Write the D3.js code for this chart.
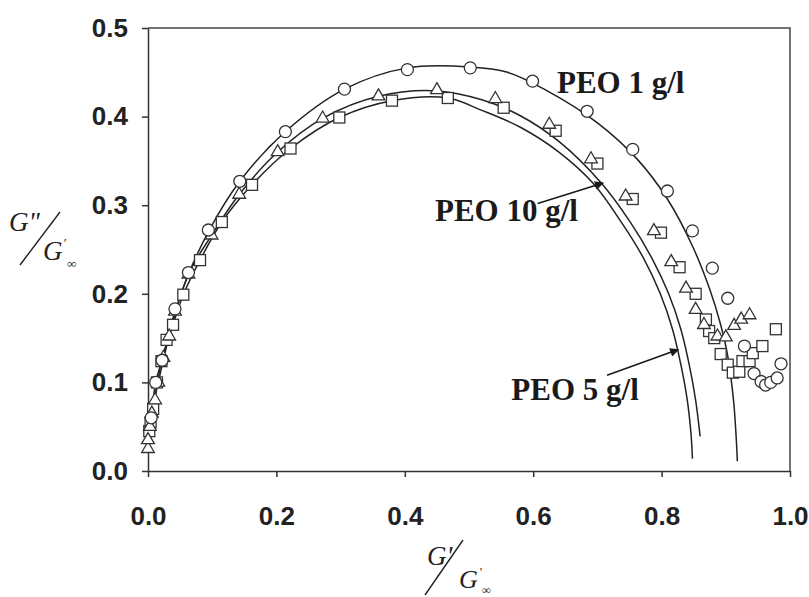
<!DOCTYPE html>
<html>
<head>
<meta charset="utf-8">
<script src="https://cdn.jsdelivr.net/npm/d3@7"></script>
<style>
  body { margin: 0; background: #fff; }
  .tick text { font-family: "Liberation Sans", Arial, sans-serif; font-weight: bold; font-size: 26px; fill: #222; }
  .lbl { font-family: "Liberation Serif", "Times New Roman", serif; font-weight: bold; font-size: 31px; fill: #1a1a1a; }
  .ttl { font-family: "Liberation Serif", "Times New Roman", serif; font-style: italic; fill: #222; }
</style>
</head>
<body>
<svg id="chart" width="809" height="597"></svg>
<script>
// tick values
var xTicks = [0, 0.2, 0.4, 0.6, 0.8, 1.0];
var yTicks = [0, 0.1, 0.2, 0.3, 0.4, 0.5];

// measured points (G'/Ginf, G''/Ginf)
var peo1 = [[0.005,0.06],[0.012,0.10],[0.022,0.125],[0.042,0.183],[0.063,0.224],[0.094,0.272],
  [0.143,0.327],[0.214,0.383],[0.306,0.431],[0.404,0.453],[0.502,0.455],[0.599,0.440],
  [0.684,0.406],[0.755,0.363],[0.809,0.316],[0.848,0.271],[0.879,0.229],[0.903,0.195],
  [0.929,0.141],[0.944,0.110],[0.955,0.101],[0.962,0.097],[0.970,0.100],[0.980,0.105],[0.986,0.121]];

var peo10 = [[0.0,0.025],[0.0,0.035],[0.003,0.050],[0.006,0.065],[0.011,0.080],[0.016,0.100],
  [0.024,0.128],[0.033,0.152],[0.042,0.180],[0.063,0.222],[0.099,0.266],[0.142,0.312],
  [0.202,0.360],[0.272,0.398],[0.359,0.423],[0.450,0.430],[0.541,0.420],[0.625,0.391],
  [0.690,0.352],[0.744,0.310],[0.788,0.271],[0.815,0.236],[0.838,0.206],[0.853,0.182],
  [0.866,0.165],[0.887,0.152],[0.900,0.151],[0.913,0.164],[0.924,0.171],[0.937,0.176]];

var peo5 = [[0.002,0.045],[0.004,0.055],[0.008,0.070],[0.014,0.100],[0.021,0.124],[0.029,0.148],
  [0.039,0.165],[0.055,0.199],[0.081,0.238],[0.115,0.281],[0.162,0.323],[0.222,0.364],
  [0.298,0.399],[0.380,0.418],[0.467,0.421],[0.554,0.410],[0.635,0.384],[0.700,0.347],
  [0.755,0.307],[0.799,0.269],[0.828,0.230],[0.853,0.200],[0.869,0.171],[0.874,0.158],
  [0.882,0.150],[0.892,0.132],[0.903,0.120],[0.911,0.111],[0.921,0.112],[0.926,0.124],
  [0.937,0.124],[0.942,0.133],[0.957,0.141],[0.978,0.160]];

// model curves
var fit1 = [[0.003,0.04],[0.012,0.10],[0.022,0.125],[0.042,0.18],[0.063,0.222],[0.094,0.27],
  [0.143,0.327],[0.214,0.383],[0.306,0.431],[0.404,0.455],[0.502,0.456],[0.56,0.45],
  [0.617,0.431],[0.70,0.393],[0.762,0.352],[0.809,0.307],[0.848,0.254],[0.875,0.205],
  [0.892,0.165],[0.903,0.130],[0.912,0.080],[0.916,0.040],[0.918,0.011]];

var fit10 = [[0.0,0.025],[0.006,0.065],[0.016,0.10],[0.033,0.152],[0.063,0.222],[0.099,0.266],
  [0.142,0.312],[0.202,0.360],[0.272,0.398],[0.359,0.423],[0.45,0.429],[0.52,0.419],
  [0.58,0.401],[0.64,0.372],[0.706,0.325],[0.752,0.28],[0.785,0.24],[0.811,0.2],
  [0.83,0.16],[0.843,0.12],[0.853,0.08],[0.860,0.039]];

var fit5 = [[0.002,0.045],[0.008,0.07],[0.021,0.124],[0.039,0.165],[0.055,0.199],[0.081,0.238],
  [0.115,0.281],[0.162,0.323],[0.222,0.364],[0.298,0.399],[0.380,0.418],[0.467,0.421],
  [0.52,0.407],[0.58,0.388],[0.64,0.36],[0.693,0.325],[0.738,0.28],[0.772,0.24],
  [0.798,0.2],[0.817,0.16],[0.83,0.12],[0.84,0.08],[0.846,0.04],[0.848,0.014]];

// annotations: text, label anchor, arrow from/to (data units)
var labels = [
  { text: "PEO 1 g/l", at: [0.637, 0.427] },
  { text: "PEO 10 g/l", at: [0.447, 0.282], from: [0.607, 0.302], to: [0.709, 0.325] },
  { text: "PEO 5 g/l", at: [0.566, 0.080], from: [0.715, 0.108], to: [0.826, 0.137] }
];

function chart() {
  var svg = d3.select("#chart"),
    margin = { top: 28, right: 19, bottom: 126, left: 148 },
    width = +svg.attr("width"),
    height = +svg.attr("height");

  var x = d3.scaleLinear().domain([0, 1]).range([margin.left, width - margin.right]);
  var y = d3.scaleLinear().domain([0, 0.5]).range([height - margin.bottom, margin.top]);

  svg.append("defs").append("marker")
    .attr("id", "head")
    .attr("viewBox", "0 0 10 10")
    .attr("refX", 9).attr("refY", 5)
    .attr("markerWidth", 10).attr("markerHeight", 9)
    .attr("markerUnits", "userSpaceOnUse")
    .attr("orient", "auto")
    .append("path").attr("d", "M0,0L10,5L0,10z").attr("fill", "#1a1a1a");

  // frame
  svg.append("path")
    .attr("d", "M" + x(0) + "," + y(0.5) + "H" + x(1) + "V" + y(0))
    .attr("fill", "none").attr("stroke", "#444").attr("stroke-width", 1.5);

  svg.append("g")
    .attr("transform", "translate(0," + y(0) + ")")
    .call(d3.axisBottom(x).tickValues(xTicks).tickFormat(d3.format(".1f")).tickSize(6).tickSizeOuter(0).tickPadding(30));
  svg.append("g")
    .attr("transform", "translate(" + x(0) + ",0)")
    .call(d3.axisLeft(y).tickValues(yTicks).tickFormat(d3.format(".1f")).tickSize(6).tickSizeOuter(0).tickPadding(14));
  svg.selectAll(".domain, .tick line").attr("stroke", "#333").attr("stroke-width", 1.5);

  var line = d3.line()
    .x((d) => x(d[0]))
    .y((d) => y(d[1]))
    .curve(d3.curveCatmullRom.alpha(0.5));

  [fit1, fit10, fit5].forEach((f) => {
    svg.append("path")
      .datum(f)
      .attr("fill", "none")
      .attr("stroke", "#222")
      .attr("stroke-width", 1.5)
      .attr("d", line);
  });

  var mk = { fill: "#fff", stroke: "#333", sw: 1.3 };

  svg.append("g").selectAll("rect")
    .data(peo5).join("rect")
    .attr("x", (d) => x(d[0]) - 5.5).attr("y", (d) => y(d[1]) - 5.5)
    .attr("width", 11).attr("height", 11)
    .attr("fill", mk.fill).attr("stroke", mk.stroke).attr("stroke-width", mk.sw);

  var tri = d3.symbol().type(d3.symbolTriangle).size(70);
  svg.append("g").selectAll("path")
    .data(peo10).join("path")
    .attr("transform", (d) => "translate(" + x(d[0]) + "," + y(d[1]) + ")")
    .attr("d", tri)
    .attr("fill", mk.fill).attr("stroke", mk.stroke).attr("stroke-width", mk.sw);

  svg.append("g").selectAll("circle")
    .data(peo1).join("circle")
    .attr("cx", (d) => x(d[0])).attr("cy", (d) => y(d[1]))
    .attr("r", 6)
    .attr("fill", mk.fill).attr("stroke", mk.stroke).attr("stroke-width", mk.sw);

  labels.forEach((l) => {
    svg.append("text").attr("class", "lbl")
      .attr("x", x(l.at[0])).attr("y", y(l.at[1]))
      .text(l.text);
    if (l.from) {
      svg.append("line")
        .attr("x1", x(l.from[0])).attr("y1", y(l.from[1]))
        .attr("x2", x(l.to[0])).attr("y2", y(l.to[1]))
        .attr("stroke", "#1a1a1a").attr("stroke-width", 1.6)
        .attr("marker-end", "url(#head)");
    }
  });

  // y title  G''/G'inf
  var yt = svg.append("g").attr("class", "ttl");
  yt.append("text").attr("x", 9).attr("y", 231).attr("font-size", 27).text("G\"");
  yt.append("line").attr("x1", 20).attr("y1", 265).attr("x2", 60).attr("y2", 212).attr("stroke", "#222").attr("stroke-width", 1.4);
  yt.append("text").attr("x", 43).attr("y", 260).attr("font-size", 27).text("G");
  yt.append("text").attr("x", 63).attr("y", 247).attr("font-size", 13).text("'");
  yt.append("text").attr("x", 67).attr("y", 268).attr("font-size", 13).text("\u221e");

  // x title  G'/G'inf
  var xt = svg.append("g").attr("class", "ttl");
  xt.append("text").attr("x", 427).attr("y", 565).attr("font-size", 27).text("G'");
  xt.append("line").attr("x1", 425).attr("y1", 595).attr("x2", 463).attr("y2", 540).attr("stroke", "#222").attr("stroke-width", 1.4);
  xt.append("text").attr("x", 459).attr("y", 588).attr("font-size", 26).text("G");
  xt.append("text").attr("x", 479).attr("y", 576).attr("font-size", 12).text("'");
  xt.append("text").attr("x", 482).attr("y", 594).attr("font-size", 12).text("\u221e");
}

chart();
</script>
</body>
</html>
